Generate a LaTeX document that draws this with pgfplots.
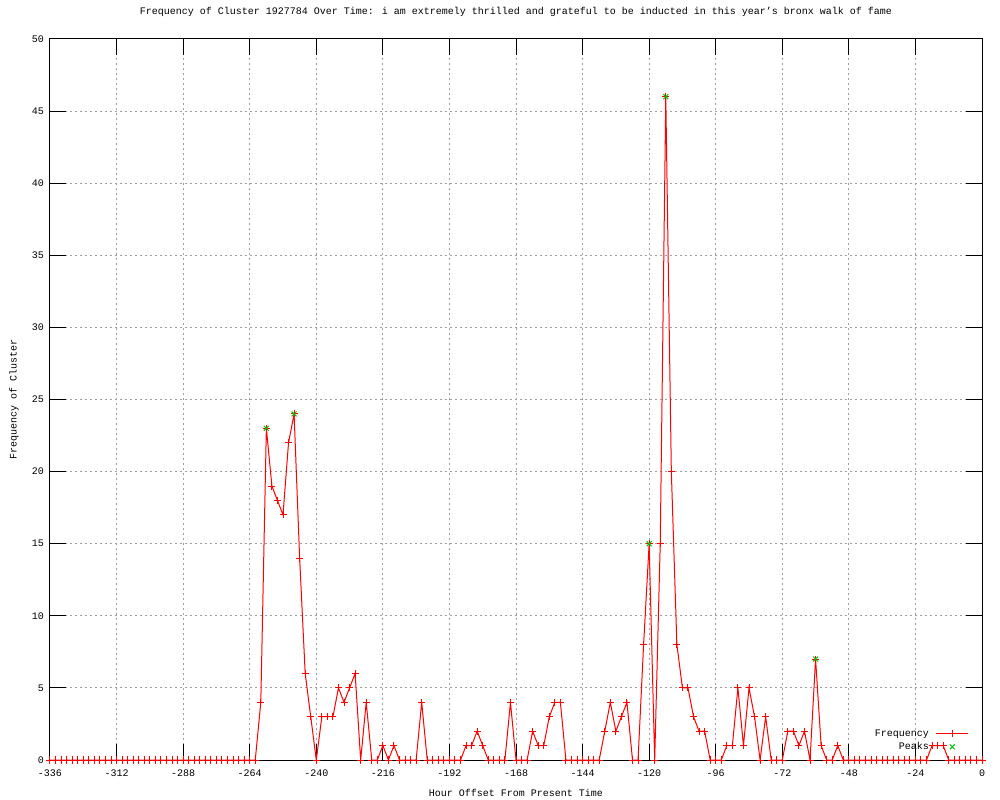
\documentclass[border=0pt]{standalone}
\usepackage{fontspec}
\setmainfont{Liberation Mono}
\usepackage{pgfplots}
\pgfplotsset{compat=1.18}
\definecolor{gpred}{RGB}{255,0,0}
\definecolor{gpgreen}{RGB}{0,192,0}
\definecolor{gridgray}{RGB}{160,160,160}
\newcommand{\gpfont}{\fontsize{10bp}{12bp}\selectfont}
\begin{document}
\begin{tikzpicture}
\useasboundingbox (-50bp,-40bp) rectangle (950bp,760bp);
\begin{axis}[
  at={(0,0)}, anchor=south west,
  scale only axis, width=932bp, height=721bp,
  xmin=-336, xmax=0, ymin=0, ymax=50,
  xtick={-336,-312,-288,-264,-240,-216,-192,-168,-144,-120,-96,-72,-48,-24,0},
  xticklabels={-336,-312,-288,-264,-240,-216,-192,-168,-144,-120,-96,-72,-48,-24,0},
  ytick={0,5,10,15,20,25,30,35,40,45,50},
  yticklabels={0,5,10,15,20,25,30,35,40,45,50},
  tick align=inside,
  major tick length=16bp,
  tick style={black, line width=1bp},
  grid=major,
  major grid style={gridgray, line width=1bp, dash pattern=on 2bp off 3bp},
  axis line style={black, line width=1bp},
  font=\gpfont,
  tick label style={font=\gpfont},
  xticklabel style={anchor=center, yshift=-13bp, inner sep=0pt},
  yticklabel style={anchor=east, xshift=-6bp, inner sep=0pt},
  title={Frequency of Cluster 1927784 Over Time: i am extremely thrilled and grateful to be inducted in this year’s bronx walk of fame},
  title style={at={(axis description cs:0.5,1.0291)}, anchor=center, font=\gpfont, inner sep=0pt},
  xlabel={Hour Offset From Present Time},
  xlabel style={at={(axis description cs:0.5,-0.0458)}, anchor=center, font=\gpfont, inner sep=0pt},
  ylabel={Frequency of Cluster},
  ylabel style={at={(axis description cs:-0.0386,0.5)}, anchor=center, font=\gpfont, inner sep=0pt},
  clip=false,
  legend cell align=right,
  legend plot pos=right,
  legend style={draw=none, fill=none, at={(axis description cs:1,0)}, anchor=south east,
    xshift=-13bp, yshift=7.5bp, inner sep=0pt, row sep=2bp, column sep=6bp,
    font=\gpfont, nodes={inner sep=1bp, text height=7bp, text depth=2bp}},
]
\addplot[gpred, line width=1bp, mark=+, mark size=3.5bp, mark options={solid, line width=1bp},
  legend image code/.code={\draw[gpred, line width=1bp, mark=+, mark size=3.5bp, mark options={solid, line width=1bp}, mark repeat=2,mark phase=2] plot coordinates {(0bp,0bp) (16bp,0bp) (32bp,0bp)};}]
coordinates {
(-336,0) (-334,0) (-332,0) (-330,0) (-328,0) (-326,0) (-324,0) (-322,0) (-320,0) (-318,0)
(-316,0) (-314,0) (-312,0) (-310,0) (-308,0) (-306,0) (-304,0) (-302,0) (-300,0) (-298,0)
(-296,0) (-294,0) (-292,0) (-290,0) (-288,0) (-286,0) (-284,0) (-282,0) (-280,0) (-278,0)
(-276,0) (-274,0) (-272,0) (-270,0) (-268,0) (-266,0) (-264,0) (-262,0)
(-260,4) (-258,23) (-256,19) (-254,18) (-252,17) (-250,22) (-248,24) (-246,14) (-244,6) (-242,3)
(-240,0) (-238,3) (-236,3) (-234,3) (-232,5) (-230,4) (-228,5) (-226,6) (-224,0) (-222,4)
(-220,0) (-218,0) (-216,1) (-214,0) (-212,1) (-210,0) (-208,0) (-206,0) (-204,0) (-202,4)
(-200,0) (-198,0) (-196,0) (-194,0) (-192,0) (-190,0) (-188,0) (-186,1) (-184,1) (-182,2)
(-180,1) (-178,0) (-176,0) (-174,0) (-172,0) (-170,4) (-168,0) (-166,0) (-164,0) (-162,2)
(-160,1) (-158,1) (-156,3) (-154,4) (-152,4) (-150,0) (-148,0) (-146,0) (-144,0) (-142,0)
(-140,0) (-138,0) (-136,2) (-134,4) (-132,2) (-130,3) (-128,4) (-126,0) (-124,0) (-122,8)
(-120,15) (-118,0) (-116,15) (-114,46) (-112,20) (-110,8) (-108,5) (-106,5) (-104,3) (-102,2)
(-100,2) (-98,0) (-96,0) (-94,0) (-92,1) (-90,1) (-88,5) (-86,1) (-84,5) (-82,3)
(-80,0) (-78,3) (-76,0) (-74,0) (-72,0) (-70,2) (-68,2) (-66,1) (-64,2) (-62,0)
(-60,7) (-58,1) (-56,0) (-54,0) (-52,1) (-50,0) (-48,0) (-46,0) (-44,0) (-42,0)
(-40,0) (-38,0) (-36,0) (-34,0) (-32,0) (-30,0) (-28,0) (-26,0) (-24,0) (-22,0)
(-20,0) (-18,1) (-16,1) (-14,1) (-12,0) (-10,0) (-8,0) (-6,0) (-4,0) (-2,0) (0,0)
};
\addlegendentry{Frequency}
\addplot[only marks, gpgreen, mark=x, mark size=3.5bp, mark options={solid, line width=1bp},
  legend image code/.code={\path (0bp,0bp) (32bp,0bp); \draw[gpgreen, mark=x, mark size=3.5bp, mark options={solid, line width=1bp}] plot coordinates {(16bp,0bp)};}]
coordinates {(-258,23) (-248,24) (-120,15) (-114,46) (-60,7)};
\addlegendentry{Peaks}
\draw[black, line width=1bp] (rel axis cs:0,0) rectangle (rel axis cs:1,1);
\end{axis}
\end{tikzpicture}
\end{document}
